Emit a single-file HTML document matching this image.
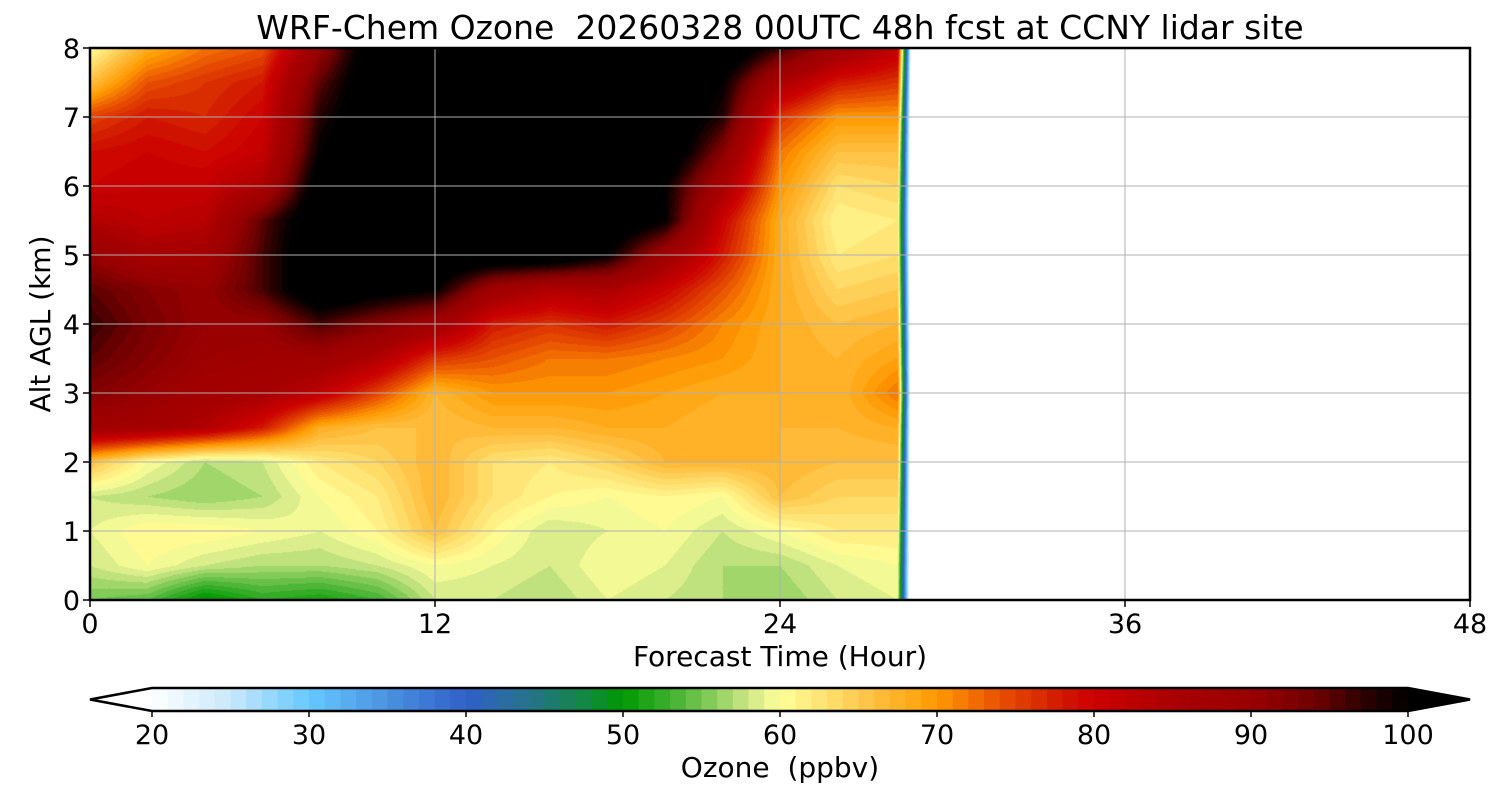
<!DOCTYPE html>
<html><head><meta charset="utf-8">
<style>
body{margin:0;background:#fff;width:1500px;height:800px;overflow:hidden;font-family:"DejaVu Sans","Liberation Sans",sans-serif;}
#wrap{position:relative;width:1500px;height:800px;}
canvas{position:absolute;left:90px;top:48px;}
svg{position:absolute;left:0;top:0;}
text{white-space:pre;}
</style></head>
<body>
<div id="wrap">
<canvas id="cv" width="1380" height="552"></canvas>
<svg id="sv" width="1500" height="800"></svg>
</div>
<script>
// forecast hours of columns (last column = missing data beyond forecast end)
const hours = [0,2,4,6,8,10,12,14,16,18,20,22,24,26,28.1,28.7];
// altitudes (km) of rows
const alts = [0,0.5,1,1.5,2,2.5,3,3.5,4,4.5,5,5.5,6,6.5,7,7.5,8];
// ozone ppbv, rows = alts (bottom to top), cols = hours
const ozone = [
 [55,54,49,52,51,53,58,58,57,59,58,57,56,58,59,0],
 [58,60,58,57,57,58,60,59,58,60,59,57,57,59,60,0],
 [59,61,61,60,59,61,66,61,58,59,60,58,60,62,62,0],
 [58,57,56,57,60,62,67,63,61,60,61,60,66,64,64,0],
 [66,60,57,58,62,64,67,63,62,64,67,67,67,66,66,0],
 [88,87,84,78,68,66,66,67,67,68,68,67,67,67,68,0],
 [92,90,87,86,82,75,67,70,70,70,69,68,68,67,72,0],
 [95,92,89,88,88,84,76,74,72,72,71,70,68,67,69,0],
 [97,93,90,90,96,92,88,78,76,78,75,71,68,66,67,0],
 [95,92,90,96,105,102,100,88,84,85,80,74,68,64,65,0],
 [90,86,87,96,105,105,105,105,105,100,88,78,68,62,63,0],
 [84,82,83,95,105,105,105,105,105,105,100,80,68,61,62,0],
 [80,81,81,85,103,105,105,105,105,105,100,86,70,63,64,0],
 [79,80,79,81,100,105,105,105,105,105,105,92,72,66,66,0],
 [75,78,77,80,98,105,105,105,105,105,105,98,76,70,70,0],
 [66,74,76,78,95,105,105,105,105,105,105,100,85,78,76,0],
 [60,68,72,74,90,105,105,105,105,105,105,105,97,88,82,0]
];
// colorbar levels
const cbLevels = Array.from({length:80},(_,i)=>20+i);
const cbTicks = [20,30,40,50,60,70,80,90,100];
const xTicks = [0,12,24,36,48];
const yTicks = [0,1,2,3,4,5,6,7,8];

const stops=[[20,'#ffffff'],[25,'#c8e8fa'],[30,'#66c8ff'],[35,'#4a92e0'],[40,'#3060c8'],[43,'#2a6e9a'],[45,'#207878'],[48,'#108a3a'],[50,'#009900'],[53,'#40b030'],[56,'#90d060'],[58,'#d0e888'],[60,'#ffff99'],[63,'#ffe070'],[66,'#ffc040'],[70,'#ff9900'],[74,'#e85000'],[78,'#d01800'],[80,'#cc0000'],[85,'#aa0000'],[90,'#990000'],[94,'#700000'],[97,'#300000'],[100,'#000000']];
function hx(h){return [parseInt(h.substr(1,2),16),parseInt(h.substr(3,2),16),parseInt(h.substr(5,2),16)];}
const st=stops.map(s=>[s[0],hx(s[1])]);
function cmap(v){
  v=Math.floor(v)+0.5;
  if(v<=20)return [255,255,255];
  if(v>=100)return [0,0,0];
  for(let i=0;i<st.length-1;i++){if(v>=st[i][0]&&v<=st[i+1][0]){const f=(v-st[i][0])/(st[i+1][0]-st[i][0]);return st[i][1].map((c,k)=>Math.round(c+(st[i+1][1][k]-c)*f));}}
  return [0,0,0];
}
const X0=90,X1=1470,Y0=48,Y1=600;
const xs=h=>X0+(X1-X0)*h/48;
const ys=a=>Y1-(Y1-Y0)*a/8;
const cbx=v=>152+(1408-152)*(v-20)/80;

// field
const cv=document.getElementById('cv'),ctx=cv.getContext('2d');
const img=ctx.createImageData(1380,552);
const hMax=hours[hours.length-1];
for(let py=0;py<552;py++){
  const a=8*(552-py-0.5)/552;
  let r=0;while(r<alts.length-2&&alts[r+1]<a)r++;
  const fy=Math.min(1,Math.max(0,(a-alts[r])/(alts[r+1]-alts[r])));
  for(let px=0;px<1380;px++){
    const h=48*(px+0.5)/1380;
    const o=(py*1380+px)*4;
    if(h>hMax){img.data[o]=255;img.data[o+1]=255;img.data[o+2]=255;img.data[o+3]=255;continue;}
    let c=0;while(c<hours.length-2&&hours[c+1]<h)c++;
    const fx=Math.min(1,Math.max(0,(h-hours[c])/(hours[c+1]-hours[c])));
    const v=(ozone[r][c]*(1-fx)+ozone[r][c+1]*fx)*(1-fy)+(ozone[r+1][c]*(1-fx)+ozone[r+1][c+1]*fx)*fy;
    const col=cmap(v);
    img.data[o]=col[0];img.data[o+1]=col[1];img.data[o+2]=col[2];img.data[o+3]=255;
  }
}
ctx.putImageData(img,0,0);

// svg overlay
const NS='http://www.w3.org/2000/svg';
const sv=document.getElementById('sv');
function mk(tag,attrs,parent){const e=document.createElementNS(NS,tag);for(const k in attrs)e.setAttribute(k,attrs[k]);(parent||sv).appendChild(e);return e;}
function txt(x,y,s,size,anchor,name){const t=mk('text',{x:x,y:y,'font-size':size,'text-anchor':anchor||'middle',fill:'#000','font-family':'DejaVu Sans, Liberation Sans, sans-serif'});t.textContent=s;


return t;}

xTicks.forEach(t=>{
  const x=xs(t);
  const g=mk('line',{x1:x,x2:x,y1:Y0,y2:Y1,stroke:'#b0b0b0','stroke-width':1});
  
  
  const tk=mk('line',{x1:x,x2:x,y1:Y1,y2:Y1+7,stroke:'#000','stroke-width':1.5});
  
  
  txt(x,633,String(t),27,'middle','x-tick-label');
});
yTicks.forEach(t=>{
  const y=ys(t);
  const g=mk('line',{x1:X0,x2:X1,y1:y,y2:y,stroke:'#b0b0b0','stroke-width':1});
  
  
  const tk=mk('line',{x1:X0-7,x2:X0,y1:y,y2:y,stroke:'#000','stroke-width':1.5});
  
  
  txt(X0-10,y+10,String(t),27,'end','y-tick-label');
});
const fr=mk('rect',{x:X0,y:Y0,width:X1-X0,height:Y1-Y0,fill:'none',stroke:'#000','stroke-width':2.5});



txt(780,39,'WRF-Chem Ozone  20260328 00UTC 48h fcst at CCNY lidar site',33,'middle','chart-title');
txt(780,666,'Forecast Time (Hour)',28,'middle','x-axis-title');
const yt=txt(0,0,'Alt AGL (km)',28,'middle','y-axis-title');
yt.setAttribute('transform','translate(50,324) rotate(-90)');

// colorbar
const CY0=688,CY1=711;
cbLevels.forEach(v=>{
  const c=cmap(v);
  const r=mk('rect',{x:cbx(v),y:CY0,width:cbx(v+1)-cbx(v)+0.6,height:CY1-CY0,fill:'rgb('+c.join(',')+')'});
  
  
});
const lt=mk('polygon',{points:`152,${CY0} 90,${(CY0+CY1)/2} 152,${CY1}`,fill:'#fff',stroke:'none'});


const rt=mk('polygon',{points:`1408,${CY0} 1470,${(CY0+CY1)/2} 1408,${CY1}`,fill:'#000',stroke:'none'});


const cbo=mk('polygon',{points:`152,${CY0} 1408,${CY0} 1470,${(CY0+CY1)/2} 1408,${CY1} 152,${CY1} 90,${(CY0+CY1)/2}`,fill:'none',stroke:'#000','stroke-width':2.5});


cbTicks.forEach(t=>{
  const x=cbx(t);
  const tk=mk('line',{x1:x,x2:x,y1:CY1,y2:CY1+6,stroke:'#000','stroke-width':1.5});
  
  
  txt(x,744,String(t),27,'middle','colorbar-tick-label');
});
txt(780,777,'Ozone  (ppbv)',28,'middle','colorbar-title');
</script>
</body></html>
